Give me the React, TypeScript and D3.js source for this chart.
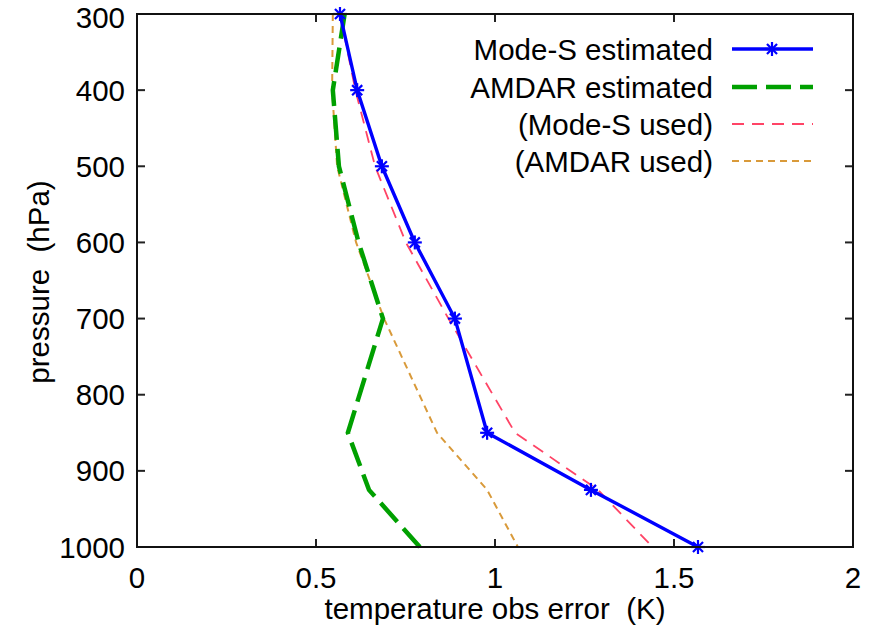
import React from "react";
import * as d3 from "d3";

const pressures = [300, 400, 500, 600, 700, 850, 925, 1000];
const modeSEstimated = [0.567, 0.615, 0.684, 0.776, 0.888, 0.978, 1.268, 1.567];
const amdarEstimated = [0.58, 0.547, 0.564, 0.619, 0.687, 0.589, 0.648, 0.79];
const modeSUsed = [0.567, 0.61, 0.665, 0.751, 0.87, 1.056, 1.288, 1.44];
const amdarUsed = [0.547, 0.545, 0.559, 0.612, 0.69, 0.838, 0.978, 1.064];

const xTicks = [0, 0.5, 1, 1.5, 2];
const yTicks = [300, 400, 500, 600, 700, 800, 900, 1000];
const legendLabels = ["Mode-S estimated", "AMDAR estimated", "(Mode-S used)", "(AMDAR used)"];

const W = 872, H = 627;
const left = 137, right = 853, top = 14, bottom = 547;
const FONT = "'Liberation Sans', Arial, sans-serif";
const FS = 29.5;

function Star({ x, y, r = 7, color }: { x: number; y: number; r?: number; color: string }) {
  const d = r * 0.72;
  return (
    <g stroke={color} strokeWidth={2.2}>
      <line x1={x - r} y1={y} x2={x + r} y2={y} />
      <line x1={x} y1={y - r} x2={x} y2={y + r} />
      <line x1={x - d} y1={y - d} x2={x + d} y2={y + d} />
      <line x1={x - d} y1={y + d} x2={x + d} y2={y - d} />
    </g>
  );
}

export default function App() {
  const x = d3.scaleLinear().domain([0, 2]).range([left, right]);
  const y = d3.scaleLinear().domain([300, 1000]).range([top, bottom]);
  const line = d3
    .line<[number, number]>()
    .x((d) => x(d[0]))
    .y((d) => y(d[1]));
  const mk = (vals: number[]) => line(vals.map((v, i) => [v, pressures[i]] as [number, number])) || "";

  const series = [
    { vals: amdarUsed, color: "#d99a3a", width: 2, dash: "7,5" },
    { vals: modeSUsed, color: "#ff4466", width: 1.8, dash: "12,8" },
    { vals: amdarEstimated, color: "#00a000", width: 4.5, dash: "25,9" },
    { vals: modeSEstimated, color: "#0000ff", width: 3.4, dash: "" },
  ];

  const legendStyles = [
    { color: "#0000ff", width: 3.4, dash: "", marker: true },
    { color: "#00a000", width: 4.5, dash: "25,9", marker: false },
    { color: "#ff4466", width: 1.8, dash: "12,8", marker: false },
    { color: "#d99a3a", width: 2, dash: "7,5", marker: false },
  ];
  const legendY = [49, 87, 124, 161];

  return (
    <svg width={W} height={H} style={{ position: "absolute", left: 0, top: 0, background: "#fff" }} fontFamily={FONT}>
      <rect x={0} y={0} width={W} height={H} fill="#fff" />
      <g stroke="#222" strokeWidth={2}>
        {yTicks.map((t) => (
          <g key={"y" + t}>
            <line x1={left} x2={left + 8} y1={y(t)} y2={y(t)} />
            <line x1={right} x2={right - 8} y1={y(t)} y2={y(t)} />
          </g>
        ))}
        {xTicks.map((t) => (
          <g key={"x" + t}>
            <line x1={x(t)} x2={x(t)} y1={bottom} y2={bottom - 8} />
            <line x1={x(t)} x2={x(t)} y1={top} y2={top + 8} />
          </g>
        ))}
      </g>
      {series.map((s, i) => (
        <path key={i} d={mk(s.vals)} fill="none" stroke={s.color} strokeWidth={s.width} strokeDasharray={s.dash || undefined} />
      ))}
      {modeSEstimated.map((v, i) => (
        <Star key={i} x={x(v)} y={y(pressures[i])} color="#0000ff" />
      ))}
      <rect x={left} y={top} width={right - left} height={bottom - top} fill="none" stroke="#111" strokeWidth={2} />
      {yTicks.map((t) => (
        <text key={"yl" + t} x={125} y={Math.max(y(t), 17)} dy="0.36em" textAnchor="end" fontSize={FS} fill="#000">
          {t}
        </text>
      ))}
      {xTicks.map((t) => (
        <text key={"xl" + t} x={x(t)} y={588} textAnchor="middle" fontSize={FS} fill="#000">
          {t}
        </text>
      ))}
      <text x={495} y={619} textAnchor="middle" fontSize={FS} style={{ whiteSpace: "pre" }}>
        {"temperature obs error  (K)"}
      </text>
      <text transform={`translate(49,282) rotate(-90)`} textAnchor="middle" fontSize={FS} style={{ whiteSpace: "pre" }}>
        {"pressure  (hPa)"}
      </text>
      {legendLabels.map((lab, i) => (
        <g key={lab}>
          <text x={713} y={legendY[i]} dy="0.36em" textAnchor="end" fontSize={FS}>
            {lab}
          </text>
          <line
            x1={732}
            x2={813}
            y1={legendY[i]}
            y2={legendY[i]}
            stroke={legendStyles[i].color}
            strokeWidth={legendStyles[i].width}
            strokeDasharray={legendStyles[i].dash || undefined}
          />
          {legendStyles[i].marker && <Star x={772} y={legendY[i]} color="#0000ff" />}
        </g>
      ))}
    </svg>
  );
}
